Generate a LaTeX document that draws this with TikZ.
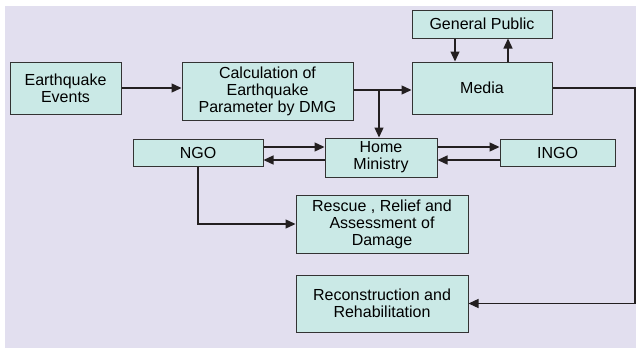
\documentclass[tikz,border=0pt]{standalone}
\usepackage{fontspec}
\setmainfont{Liberation Sans}
\usetikzlibrary{arrows.meta, positioning, calc}
\definecolor{cback}{HTML}{E2DFEF}
\definecolor{cbox}{HTML}{CAE9E6}
\definecolor{cedge}{HTML}{333333}
\definecolor{cline}{HTML}{231F20}
\tikzset{
  every picture/.style={line width=1.2pt},
  box/.style={draw=cedge, fill=cbox, align=center, inner sep=0pt, line width=1pt, font=\fontsize{16}{17}\selectfont},
  arrow/.style={-{Triangle[length=10pt, width=9pt]}, draw=cline, line width=1.3pt},
}

\begin{document}
\begin{tikzpicture}[x=1pt, y=-1pt]
  \useasboundingbox (0,0) rectangle (636,348);
  \fill[cback] (5,6) rectangle (636,348);
  % top row
  \node[box, minimum width=111pt, minimum height=52pt] (quake) at (65.5,88) {Earthquake\\Events};
  \node[box, minimum width=171pt, minimum height=58pt] (calc) at (267.5,91) {Calculation of\\Earthquake\\Parameter by DMG};
  \node[box, minimum width=140pt, minimum height=28pt] (public) at (482,24) {General Public};
  \node[box, minimum width=140pt, minimum height=52pt] (media) at (482,88) {Media};
  % middle row
  \node[box, minimum width=130pt, minimum height=27pt] (ngo) at (198,152.5) {NGO};
  \node[box, minimum width=112pt, minimum height=39pt] (home) at (381,157.5) {Home\\Ministry};
  \node[box, minimum width=115pt, minimum height=27pt] (ingo) at (557.5,152.5) {INGO};
  % lower boxes
  \node[box, minimum width=172pt, minimum height=58pt] (rescue) at (382,224) {Rescue , Relief and\\Assessment of\\Damage};
  \node[box, minimum width=172pt, minimum height=57pt] (recon) at (382,303.5) {Reconstruction and\\Rehabilitation};
  \coordinate (split) at (379,90);
  \coordinate (edge) at (635,88);
  % connectors
  \draw[arrow] (quake.east) -- (quake.east -| calc.west);
  \draw[arrow] (calc.east |- split) -- (split -| media.west);
  \draw[arrow] (split) -- (split |- home.north);
  \draw[arrow] ([xshift=-27pt]public.south) -- ([xshift=-27pt]media.north);
  \draw[arrow] ([xshift=26pt]media.north) -- ([xshift=26pt]public.south);
  \draw[arrow] ([yshift=5.5pt]ngo.east) -- ([yshift=5.5pt]ngo.east -| home.west);
  \draw[arrow] ([yshift=-7.5pt]ngo.east -| home.west) -- ([yshift=-7.5pt]ngo.east);
  \draw[arrow] ([yshift=5.5pt]ingo.west -| home.east) -- ([yshift=5.5pt]ingo.west);
  \draw[arrow] ([yshift=-7.5pt]ingo.west) -- ([yshift=-7.5pt]ingo.west -| home.east);
  \draw[arrow] (ngo.south) |- (rescue.west);
  \draw[arrow] (media.east) -- (edge) |- (recon.east);
\end{tikzpicture}
\end{document}
